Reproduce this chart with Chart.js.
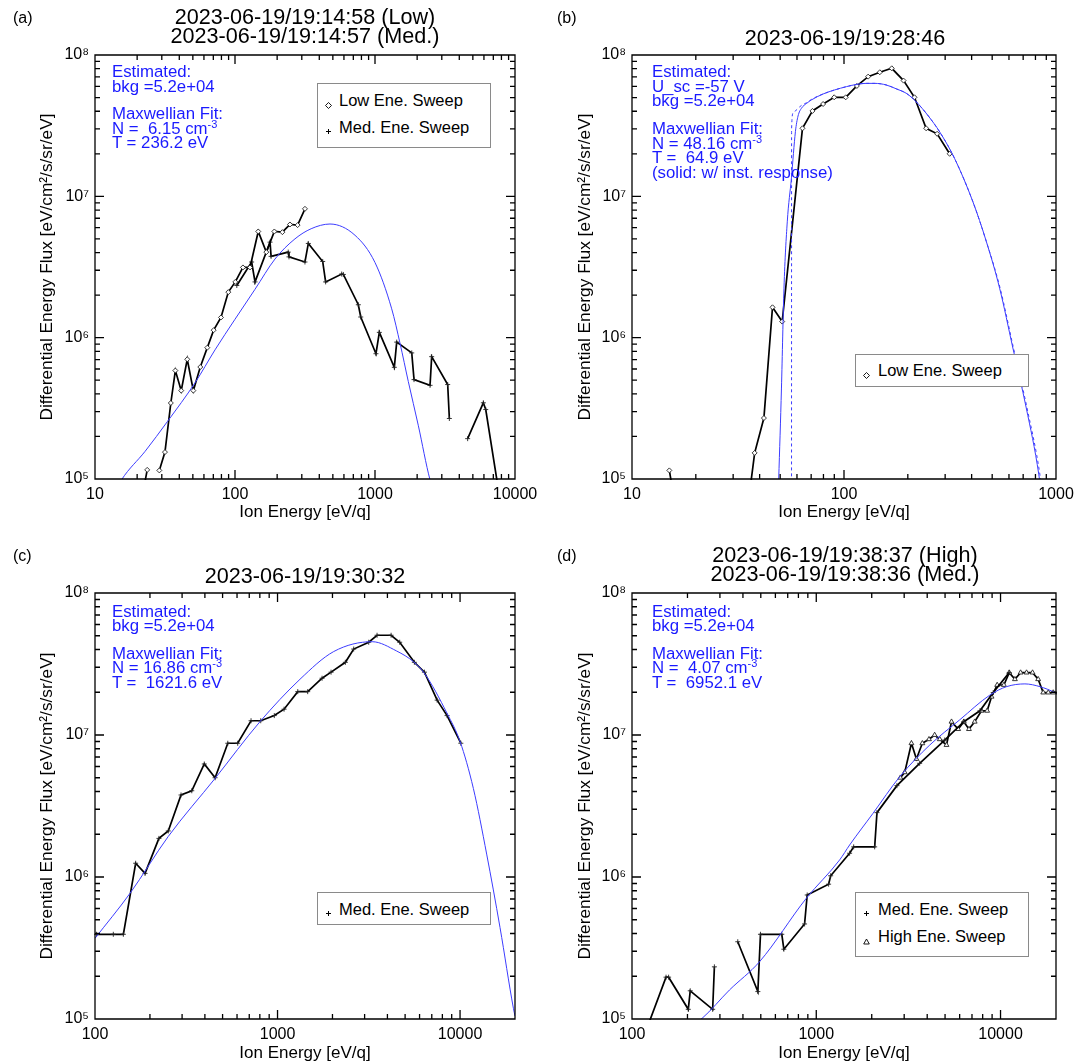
<!DOCTYPE html>
<html>
<head>
<meta charset="utf-8">
<title>Ion energy spectra</title>
<script src="https://cdn.jsdelivr.net/npm/chart.js@4.4.1/dist/chart.umd.min.js"></script>
<style>
html,body{margin:0;padding:0;background:#fff;}
#wrap{position:relative;width:1088px;height:1064px;overflow:hidden;font-family:"Liberation Sans",Arial,Helvetica,sans-serif;background:#fff;}
#wrap canvas{position:absolute;}
.tx{position:absolute;white-space:pre;color:#000;line-height:1;}
.ttl{font-size:21.6px;transform:translate(-50%,-50%);}
.let{font-size:16px;transform:translateY(-50%);}
.ann{color:#1a1aff;font-size:16.8px;transform:translateY(-50%);}
.sup{font-size:11px;position:relative;top:-6px;}
.leg{position:absolute;border:1px solid #8a8a8a;background:#fff;box-sizing:border-box;}
.legt{font-size:16.5px;transform:translateY(-50%);}
.mk{position:absolute;}
</style>
</head>
<body>
<div id="wrap">
<canvas id="ca" width="544" height="532" style="left:0;top:0"></canvas>
<canvas id="cb" width="544" height="532" style="left:544px;top:0"></canvas>
<canvas id="cc" width="544" height="532" style="left:0;top:532px"></canvas>
<canvas id="cd" width="544" height="532" style="left:544px;top:532px"></canvas>

<div class="tx let" style="left:13px;top:18px">(a)</div>
<div class="tx let" style="left:557px;top:18px">(b)</div>
<div class="tx let" style="left:13px;top:556px">(c)</div>
<div class="tx let" style="left:557px;top:556px">(d)</div>

<div class="tx ttl" style="left:305px;top:17px">2023-06-19/19:14:58 (Low)</div>
<div class="tx ttl" style="left:305px;top:36px">2023-06-19/19:14:57 (Med.)</div>
<div class="tx ttl" style="left:845px;top:38px">2023-06-19/19:28:46</div>
<div class="tx ttl" style="left:305px;top:576px">2023-06-19/19:30:32</div>
<div class="tx ttl" style="left:845px;top:555px">2023-06-19/19:38:37 (High)</div>
<div class="tx ttl" style="left:845px;top:574px">2023-06-19/19:38:36 (Med.)</div>

<div class="tx ann" style="left:112px;top:72px">Estimated:</div>
<div class="tx ann" style="left:112px;top:86.5px">bkg =5.2e+04</div>
<div class="tx ann" style="left:112px;top:114px">Maxwellian Fit:</div>
<div class="tx ann" style="left:112px;top:128.5px">N =  6.15 cm<span class="sup">-3</span></div>
<div class="tx ann" style="left:112px;top:143px">T = 236.2 eV</div>

<div class="tx ann" style="left:652px;top:72px">Estimated:</div>
<div class="tx ann" style="left:652px;top:86.5px">U_sc =-57 V</div>
<div class="tx ann" style="left:652px;top:101px">bkg =5.2e+04</div>
<div class="tx ann" style="left:652px;top:129px">Maxwellian Fit:</div>
<div class="tx ann" style="left:652px;top:143.5px">N = 48.16 cm<span class="sup">-3</span></div>
<div class="tx ann" style="left:652px;top:158px">T =  64.9 eV</div>
<div class="tx ann" style="left:652px;top:172.5px">(solid: w/ inst. response)</div>

<div class="tx ann" style="left:112px;top:611.5px">Estimated:</div>
<div class="tx ann" style="left:112px;top:626px">bkg =5.2e+04</div>
<div class="tx ann" style="left:112px;top:653.5px">Maxwellian Fit:</div>
<div class="tx ann" style="left:112px;top:668px">N = 16.86 cm<span class="sup">-3</span></div>
<div class="tx ann" style="left:112px;top:682.5px">T =  1621.6 eV</div>

<div class="tx ann" style="left:652px;top:611.5px">Estimated:</div>
<div class="tx ann" style="left:652px;top:626px">bkg =5.2e+04</div>
<div class="tx ann" style="left:652px;top:653.5px">Maxwellian Fit:</div>
<div class="tx ann" style="left:652px;top:668px">N =  4.07 cm<span class="sup">-3</span></div>
<div class="tx ann" style="left:652px;top:682.5px">T =  6952.1 eV</div>

<div class="leg" style="left:317px;top:83px;width:174px;height:65px"></div>
<svg class="mk" style="left:325px;top:102px" width="7" height="7"><path d="M3.5 0.5 L6.5 3.5 L3.5 6.5 L0.5 3.5 Z" fill="none" stroke="#000" stroke-width="0.9"/></svg>
<div class="tx legt" style="left:339px;top:100px">Low Ene. Sweep</div>
<svg class="mk" style="left:325px;top:128px" width="7" height="7"><path d="M3.5 1 V6 M1 3.5 H6" stroke="#000" stroke-width="1"/></svg>
<div class="tx legt" style="left:339px;top:127px">Med. Ene. Sweep</div>

<div class="leg" style="left:855px;top:354px;width:174px;height:33px"></div>
<svg class="mk" style="left:863px;top:372px" width="7" height="7"><path d="M3.5 0.5 L6.5 3.5 L3.5 6.5 L0.5 3.5 Z" fill="none" stroke="#000" stroke-width="0.9"/></svg>
<div class="tx legt" style="left:878px;top:370px">Low Ene. Sweep</div>

<div class="leg" style="left:317px;top:892px;width:174px;height:33px"></div>
<svg class="mk" style="left:325px;top:910px" width="7" height="7"><path d="M3.5 1 V6 M1 3.5 H6" stroke="#000" stroke-width="1"/></svg>
<div class="tx legt" style="left:339px;top:908.5px">Med. Ene. Sweep</div>

<div class="leg" style="left:855px;top:892px;width:174px;height:65px"></div>
<svg class="mk" style="left:863px;top:910px" width="7" height="7"><path d="M3.5 1 V6 M1 3.5 H6" stroke="#000" stroke-width="1"/></svg>
<div class="tx legt" style="left:878px;top:909px">Med. Ene. Sweep</div>
<svg class="mk" style="left:863px;top:938px" width="7" height="7"><path d="M3.5 1 L6.3 6 L0.7 6 Z" fill="none" stroke="#000" stroke-width="0.9"/></svg>
<div class="tx legt" style="left:878px;top:935.5px">High Ene. Sweep</div>
</div>

<script>
// ---------------- data ----------------
// Panel (a)
const aLowE = [22, 23.6, null, 28.8, 31.6, 34.8, 37.5, 41.3, 45.6, 50.4, 56.5, 63.4, 70.4, 79.4, 89.6, 100.5, 114, 128, 146.6, 167.4, 191, 218, 247, 280, 316];
const aLowF = [8e4, 1.16e5, null, 1.15e5, 1.55e5, 3.45e5, 5.85e5, 4.22e5, 7.03e5, 4.22e5, 6.2e5, 8.5e5, 1.13e6, 1.39e6, 2.1e6, 2.48e6, 3.14e6, 3.14e6, 5.64e6, 4.03e6, 5.64e6, 5.58e6, 6.32e6, 6.26e6, 8.16e6];
const aMedE = [103, 131.5, 139, 178, 181, 240, 243, 316, 334, 423, 444, 578, 594, 760, 791, 1016, 1074, 1374, 1429, 1830, 1900, 2473, 2540, 3305, 3397, null, 4590, 5940, 6180, 7600];
const aMedF = [2.34e6, 3.43e6, 2.48e6, 4.74e6, 3.76e6, 4.03e6, 3.73e6, 3.43e6, 4.64e6, 3.46e6, 2.48e6, 2.82e6, 2.8e6, 1.71e6, 1.4e6, 7.7e5, 1.09e6, 6.17e5, 9.3e5, 7.8e5, 5.05e5, 4.6e5, 7.34e5, 4.66e5, 2.68e5, null, 1.93e5, 3.46e5, 3.1e5, 8.5e4];
const aFitE = [14, 15.5, 22.8, 33, 51.8, 72, 100, 139, 193, 268, 350, 477, 720, 1000, 1316, 1510, 1729, 2037, 2470, 2800];
const aFitF = [8.2e4, 9.9e4, 1.57e5, 2.56e5, 4.79e5, 8.2e5, 1.35e6, 2.2e6, 3.6e6, 5.0e6, 5.9e6, 6.37e6, 5.3e6, 3.4e6, 1.6e6, 9.1e5, 4.9e5, 2.4e5, 9.9e4, 7e4];

// Panel (b)
const bLowE = [15, 16.5, 35, 37.9, 41.9, 46, 51.1, 63.7, 71, 79.7, 89.9, 101.9, 115, 130, 147.5, 168, 191, 215, 244, 275, 315];
const bLowF = [1.15e5, 5e4, 6e4, 1.53e5, 2.7e5, 1.64e6, 1.3e6, 3.03e7, 4.02e7, 4.5e7, 5.02e7, 5.02e7, 6.04e7, 7.03e7, 7.55e7, 8.05e7, 6.59e7, 5.02e7, 3.03e7, 2.77e7, 2.0e7];
const bFitE = [48.5, 49.2, 50.7, 52.1, 54, 56.5, 59, 60.7, 63, 66.7, 70.2, 79.7, 90, 102.6, 115, 127, 140, 158, 177, 197, 218, 250, 283, 332, 405, 469, 542, 626, 724, 830, 870];
const bFitF = [5e4, 9.9e4, 4.4e5, 2.24e6, 6.6e6, 1.35e7, 2.87e7, 3.7e7, 4.2e7, 4.55e7, 4.81e7, 5.3e7, 5.65e7, 5.97e7, 6.2e7, 6.3e7, 6.3e7, 6.14e7, 5.75e7, 5.35e7, 4.7e7, 3.7e7, 2.85e7, 1.86e7, 9.2e6, 4.8e6, 2.24e6, 8.45e5, 3.18e5, 1.07e5, 6e4];
const bPureE = [56.55, 56.6, 57.5, 59.6, 63, 66.7, 70.2, 79.7, 90, 102.6, 115, 127, 140, 158, 177, 197, 218, 250, 283, 332, 405, 469, 545, 630, 730, 840, 880];
const bPureF = [1e4, 3.0e7, 3.87e7, 4.09e7, 4.4e7, 4.6e7, 4.85e7, 5.3e7, 5.65e7, 5.97e7, 6.2e7, 6.3e7, 6.3e7, 6.14e7, 5.75e7, 5.35e7, 4.7e7, 3.7e7, 2.85e7, 1.86e7, 9.2e6, 4.8e6, 2.24e6, 8.45e5, 3.18e5, 1.07e5, 6e4];

// Panel (c)
const cMedE = [102, 126, 143, 167, 188, 224, 252, 296, 339, 397, 455, 534, 605, 716, 809, 960, 1086, 1291, 1463, 1754, 1965, 2353, 2614, 3160, 3510, 4190, 4670, 5620, 6380, 7490, 8490, 10100];
const cMedF = [3.95e5, 3.95e5, 3.95e5, 1.25e6, 1.06e6, 1.87e6, 2.11e6, 3.78e6, 4.05e6, 6.25e6, 5.0e6, 8.75e6, 8.75e6, 1.26e7, 1.26e7, 1.37e7, 1.52e7, 2.02e7, 2.02e7, 2.51e7, 2.77e7, 3.25e7, 4.03e7, 4.5e7, 5.04e7, 5.04e7, 4.5e7, 3.25e7, 2.77e7, 1.76e7, 1.37e7, 8.75e6];
const cFitE = [100, 155.6, 252, 455, 801, 1328, 2032, 3300, 4500, 5560, 6380, 8490, 10000, 11830, 13990, 16560, 19600, 20000];
const cFitF = [3.7e5, 7.68e5, 1.93e6, 4.95e6, 1.24e7, 2.47e7, 3.87e7, 4.54e7, 3.9e7, 3.28e7, 2.72e7, 1.42e7, 9.0e6, 4.2e6, 1.45e6, 4.4e5, 1.19e5, 1.05e5];

// Panel (d)
const dMedE = [118, 153, 158, 202, 207, 274, 280, null, 375, 482, 498, 650, 667, 864, 893, 1167, 1197, 1517, 1596, 2075, 2135, 2740, 3640, 4980, 6320, 7730, 9130, 11150];
const dMedF = [8e4, 1.97e5, 1.97e5, 1.17e5, 1.58e5, 1.17e5, 2.33e5, null, 3.5e5, 1.56e5, 3.95e5, 3.95e5, 3.1e5, 4.67e5, 7.47e5, 8.9e5, 1.02e6, 1.47e6, 1.63e6, 1.63e6, 2.84e6, 4.4e6, 6.32e6, 9.22e6, 1.24e7, 1.48e7, 1.99e7, 2.75e7];
const dHighE = [2860, 3020, 3285, 3495, 3765, 4090, 4390, 4680, 5090, 5420, 5890, 6320, 6740, 7240, 7880, 8460, 8940, 9590, 10430, 11150, 11970, 12850, 13840, 14920, 16000, 17050, 18160, 19320, 20600];
const dHighF = [5.0e6, 5.46e6, 8.74e6, 6.78e6, 8.74e6, 9.33e6, 1.0e7, 9.33e6, 8.5e6, 1.24e7, 1.10e7, 1.24e7, 1.10e7, 1.24e7, 1.48e7, 1.48e7, 1.86e7, 2.25e7, 2.25e7, 2.75e7, 2.47e7, 2.75e7, 2.75e7, 2.75e7, 2.47e7, 1.99e7, 1.99e7, 1.99e7, 1.99e7];
const dFitE = [200, 240, 338, 492, 883, 1340, 1517, 2033, 2840, 4130, 6010, 8750, 10780, 13560, 16370, 19730, 20000];
const dFitF = [8.6e4, 1.01e5, 1.6e5, 2.53e5, 7.08e5, 1.32e6, 1.68e6, 2.81e6, 5.09e6, 8.5e6, 1.28e7, 1.91e7, 2.19e7, 2.29e7, 2.19e7, 1.99e7, 1.97e7];

// axis settings
const yMin = 1e5, yMax = 1e8;
const xRangeA = [10, 10000], xRangeB = [10, 1000], xRangeC = [100, 20000], xRangeD = [100, 20000];
const yTickLabels = {5: '10\u2075', 6: '10\u2076', 7: '10\u2077', 8: '10\u2078'};
const xTitle = 'Ion Energy [eV/q]';
const yTitle = 'Differential Energy Flux [eV/cm\u00B2/s/sr/eV]';

// ---------------- helpers ----------------
const FONT = "'Liberation Sans', Arial, Helvetica, sans-serif";
const FIT_BLUE = '#3c3cff';
function series(E, F) { return E.map((e, i) => ({x: e, y: F[i]})); }
function decade(v) { const l = Math.log10(v); return Math.abs(l - Math.round(l)) < 1e-6 ? Math.round(l) : null; }

function logTickVals(min, max) {
  const out = [];
  for (let d = Math.floor(Math.log10(min)); d <= Math.ceil(Math.log10(max)); d++) {
    for (let m = 1; m <= 9; m++) {
      const v = m * Math.pow(10, d);
      if (v >= min * 0.9999 && v <= max * 1.0001) out.push({v, major: m === 1});
    }
  }
  return out;
}

const idlFrame = {
  id: 'idlFrame',
  afterDatasetsDraw(chart) {
    const {ctx, chartArea: a, scales: {x, y}} = chart;
    ctx.save();
    ctx.strokeStyle = '#000';
    ctx.lineWidth = 1.3;
    const L = a.left, R = a.right, T = a.top, B = a.bottom;
    ctx.beginPath();
    ctx.rect(L, T, R - L, B - T);
    for (const t of logTickVals(x.min, x.max)) {
      const p = x.getPixelForValue(t.v), len = t.major ? 9 : 5;
      ctx.moveTo(p, B); ctx.lineTo(p, B - len);
      ctx.moveTo(p, T); ctx.lineTo(p, T + len);
    }
    for (const t of logTickVals(y.min, y.max)) {
      const p = y.getPixelForValue(t.v), len = t.major ? 9 : 5;
      ctx.moveTo(L, p); ctx.lineTo(L + len, p);
      ctx.moveTo(R, p); ctx.lineTo(R - len, p);
    }
    ctx.stroke();
    ctx.restore();
  }
};

function dataLine(E, F, style, r) {
  return {data: series(E, F), borderColor: '#000', borderWidth: 1.7, pointStyle: style, pointRadius: r,
    pointBorderColor: '#222', pointBorderWidth: 0.9, pointBackgroundColor: '#fff', tension: 0, spanGaps: false, clip: 1};
}
function fitLine(E, F, dash) {
  return {data: series(E, F), borderColor: FIT_BLUE, borderWidth: 1, pointRadius: 0, cubicInterpolationMode: 'monotone',
    borderDash: dash || [], spanGaps: false, clip: 0};
}

function panel(id, p) {
  return new Chart(document.getElementById(id), {
    type: 'line',
    data: {datasets: p.datasets},
    options: {
      responsive: false, animation: false, devicePixelRatio: 1,
      layout: {autoPadding: false, padding: {left: 0, top: p.top, right: p.right, bottom: 0}},
      plugins: {legend: {display: false}, tooltip: {enabled: false}, title: {display: false}},
      scales: {
        x: {
          type: 'logarithmic', position: 'bottom', min: p.xr[0], max: p.xr[1],
          grid: {display: false, drawTicks: false}, border: {display: false},
          ticks: {autoSkip: false, maxRotation: 0, padding: p.xLabPad, color: '#000', font: {family: FONT, size: 16},
            callback: v => decade(v) !== null ? String(Math.round(v)) : ''},
          title: {display: true, text: xTitle, color: '#000', font: {family: FONT, size: 17}, padding: {top: 0, bottom: p.xTitlePad}},
          afterFit: s => { s.height = p.xH; }
        },
        y: {
          type: 'logarithmic', position: 'left', min: yMin, max: yMax,
          grid: {display: false, drawTicks: false}, border: {display: false},
          ticks: {autoSkip: false, padding: 6, color: '#000', font: {family: FONT, size: 16},
            callback: v => { const d = decade(v); return d !== null && yTickLabels[d] ? yTickLabels[d] : ''; }},
          title: {display: true, text: yTitle, color: '#000', font: {family: FONT, size: 17.3}, padding: {top: p.yTitlePad, bottom: 0}},
          afterFit: s => { s.width = p.yW; }
        }
      }
    },
    plugins: [idlFrame]
  });
}

panel('ca', {xr: xRangeA, top: 55, right: 29, yW: 95, xH: 53, xLabPad: 6, xTitlePad: 9.8, yTitlePad: 36.6,
  datasets: [fitLine(aFitE, aFitF), dataLine(aLowE, aLowF, 'rectRot', 2.5), dataLine(aMedE, aMedF, 'cross', 2.5)]});
panel('cb', {xr: xRangeB, top: 55, right: 32, yW: 88, xH: 53, xLabPad: 6, xTitlePad: 9.8, yTitlePad: 30.6,
  datasets: [fitLine(bFitE, bFitF), fitLine(bPureE, bPureF, [3, 3]), dataLine(bLowE, bLowF, 'rectRot', 2.5)]});
panel('cc', {xr: xRangeC, top: 61, right: 29, yW: 95, xH: 45, xLabPad: 6, xTitlePad: 0, yTitlePad: 36.6,
  datasets: [fitLine(cFitE, cFitF), dataLine(cMedE, cMedF, 'cross', 2.5)]});
panel('cd', {xr: xRangeD, top: 61, right: 32, yW: 88, xH: 45, xLabPad: 6, xTitlePad: 0, yTitlePad: 30.6,
  datasets: [fitLine(dFitE, dFitF), dataLine(dMedE, dMedF, 'cross', 2.5), dataLine(dHighE, dHighF, 'triangle', 2.8)]});
</script>
</body>
</html>
